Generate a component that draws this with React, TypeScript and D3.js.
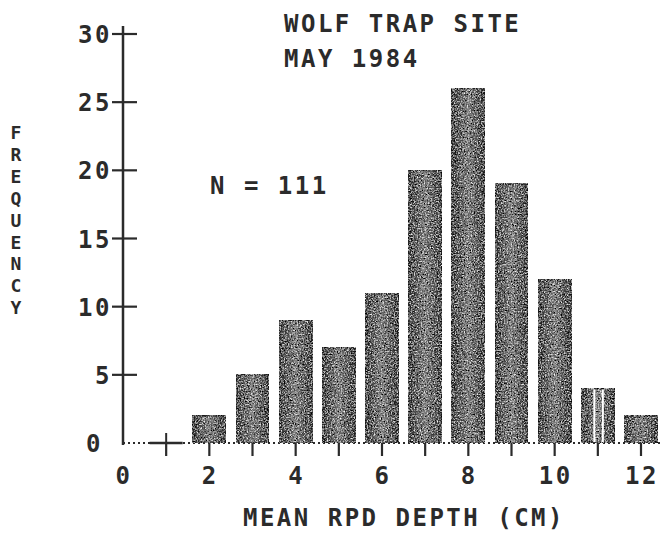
import React from 'react';
import * as d3 from 'd3';

// mean RPD depth classes (cm) and counts
const depthClasses = [1, 2, 3, 4, 5, 6, 7, 8, 9, 10, 11, 12];
const frequencies = [0, 2, 5, 9, 7, 11, 20, 26, 19, 12, 4, 2];
const yTickValues = [0, 5, 10, 15, 20, 25, 30];
const xTickLabels = [0, 2, 4, 6, 8, 10, 12];
const yLabelLetters = ['F', 'R', 'E', 'Q', 'U', 'E', 'N', 'C', 'Y'];

const FONT = '"DejaVu Sans Mono", "Liberation Mono", monospace';
const INK = '#2b2b2b';

export default function App() {
  const width = 662;
  const height = 538;

  const x = d3.scaleLinear().domain([0, 12]).range([123, 641]);
  const y = d3.scaleLinear().domain([0, 30]).range([443, 34]);
  const barW = 33;
  const y0 = y(0);

  const textStyle = {
    fontFamily: FONT,
    fontWeight: 700,
    fontSize: 24,
    fill: INK,
    letterSpacing: 2.5,
  } as React.CSSProperties;

  return (
    <svg
      width={width}
      height={height}
      style={{ position: 'absolute', left: 0, top: 0, background: '#fff' }}
    >
      <defs>
        <linearGradient id="barShade" x1="0" x2="1" y1="0" y2="0">
          <stop offset="0%" stopColor="#2c2c2c" />
          <stop offset="50%" stopColor="#8c8c8c" />
          <stop offset="100%" stopColor="#2c2c2c" />
        </linearGradient>
        <filter id="grain" x="0" y="0" width="100%" height="100%">
          <feTurbulence type="fractalNoise" baseFrequency="0.7" numOctaves="2" seed="4" result="noise" />
          <feColorMatrix
            in="noise"
            type="matrix"
            values="0 0 0 0 1  0 0 0 0 1  0 0 0 0 1  2.4 0 0 0 -1.05"
            result="light"
          />
          <feColorMatrix
            in="noise"
            type="matrix"
            values="0 0 0 0 0  0 0 0 0 0  0 0 0 0 0  0 2.6 0 0 -0.95"
            result="dark"
          />
          <feComposite in="light" in2="SourceGraphic" operator="in" result="lightIn" />
          <feComposite in="dark" in2="SourceGraphic" operator="in" result="darkIn" />
          <feMerge>
            <feMergeNode in="SourceGraphic" />
            <feMergeNode in="lightIn" />
            <feMergeNode in="darkIn" />
          </feMerge>
        </filter>
      </defs>

      {/* dotted baseline */}
      <line
        x1={x(0)}
        x2={660}
        y1={y0}
        y2={y0}
        stroke={INK}
        strokeWidth={2}
        strokeDasharray="2,3"
      />

      {/* bars */}
      {depthClasses.map((d, i) => {
        const v = frequencies[i];
        if (v === 0) {
          return (
            <g key={d}>
              <line x1={x(d) - barW / 2} x2={x(d) + barW / 2} y1={y0} y2={y0} stroke={INK} strokeWidth={2.5} />
              <line x1={x(d)} x2={x(d)} y1={y0 - 10} y2={y0} stroke={INK} strokeWidth={2} />
            </g>
          );
        }
        return (
          <rect
            key={d}
            x={x(d) - barW / 2}
            y={y(v)}
            width={barW}
            height={y0 - y(v)}
            fill="url(#barShade)"
            stroke="#2a2a2a"
            strokeWidth={1.5}
            filter="url(#grain)"
          />
        );
      })}

      {/* split marks on the 11 cm bar */}
      {[-3.5, 5].map((dx) => (
        <rect
          key={dx}
          x={x(11) + dx - 1}
          y={y(frequencies[10]) + 1}
          width={2}
          height={y0 - y(frequencies[10]) - 2}
          fill="#fff"
        />
      ))}

      {/* x ticks */}
      {depthClasses.map((d) => (
        <line key={d} x1={x(d)} x2={x(d)} y1={y0} y2={y0 + 13} stroke={INK} strokeWidth={2.2} />
      ))}
      {xTickLabels.map((d) => (
        <text key={d} x={x(d) + 1} y={484} textAnchor="middle" style={textStyle}>
          {d}
        </text>
      ))}

      {/* y axis */}
      <line x1={x(0)} x2={x(0)} y1={y(30) - 8} y2={y0 + 2} stroke={INK} strokeWidth={2.5} />
      {yTickValues.map((t) => (
        <g key={t}>
          {t > 0 && (
            <line x1={x(0) - 11} x2={x(0) + 14} y1={y(t)} y2={y(t)} stroke={INK} strokeWidth={2.2} />
          )}
          <text x={t === 0 ? 103 : 112} y={y(t) + 9} textAnchor="end" style={textStyle}>
            {t}
          </text>
        </g>
      ))}

      {/* titles */}
      <text x={284} y={32} style={textStyle}>WOLF TRAP SITE</text>
      <text x={284} y={67} style={textStyle}>MAY 1984</text>
      <text x={210} y={194} style={textStyle}>N = 111</text>

      <text x={404} y={526} textAnchor="middle" style={textStyle}>MEAN RPD DEPTH (CM)</text>

      {/* stacked vertical axis title */}
      {yLabelLetters.map((ch, i) => (
        <text
          key={i}
          x={16}
          y={139 + i * 21.9}
          textAnchor="middle"
          style={{ ...textStyle, fontSize: 18, letterSpacing: 0 }}
        >
          {ch}
        </text>
      ))}
    </svg>
  );
}
